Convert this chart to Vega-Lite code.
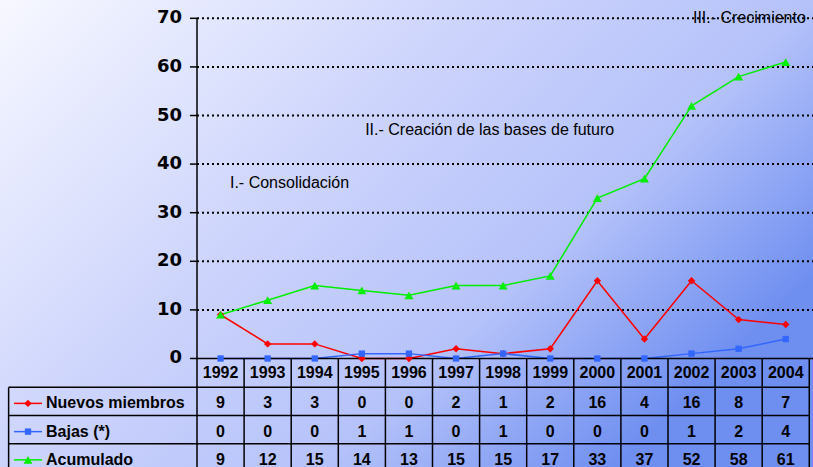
{
  "$schema": "https://vega.github.io/schema/vega-lite/v6.json",
  "width": 813,
  "height": 467,
  "padding": 0,
  "autosize": {"type": "none"},
  "background": "#ffffff",
  "view": {
    "stroke": null,
    "fill": {
      "gradient": "linear", "x1": 0, "y1": 0, "x2": 1, "y2": 0.6,
      "stops": [
        {"offset": 0, "color": "#f7f8ff"},
        {"offset": 0.44, "color": "#cdd4fc"},
        {"offset": 0.735, "color": "#b5c2fa"},
        {"offset": 1, "color": "#6e8ef0"}
      ]
    }
  },
  "config": {"font": "Liberation Sans", "axis": {"grid": false}},
  "datasets": {
    "series": [
      {"year": 1992, "series": "Nuevos miembros", "value": 9},
      {"year": 1993, "series": "Nuevos miembros", "value": 3},
      {"year": 1994, "series": "Nuevos miembros", "value": 3},
      {"year": 1995, "series": "Nuevos miembros", "value": 0},
      {"year": 1996, "series": "Nuevos miembros", "value": 0},
      {"year": 1997, "series": "Nuevos miembros", "value": 2},
      {"year": 1998, "series": "Nuevos miembros", "value": 1},
      {"year": 1999, "series": "Nuevos miembros", "value": 2},
      {"year": 2000, "series": "Nuevos miembros", "value": 16},
      {"year": 2001, "series": "Nuevos miembros", "value": 4},
      {"year": 2002, "series": "Nuevos miembros", "value": 16},
      {"year": 2003, "series": "Nuevos miembros", "value": 8},
      {"year": 2004, "series": "Nuevos miembros", "value": 7},
      {"year": 1992, "series": "Bajas (*)", "value": 0},
      {"year": 1993, "series": "Bajas (*)", "value": 0},
      {"year": 1994, "series": "Bajas (*)", "value": 0},
      {"year": 1995, "series": "Bajas (*)", "value": 1},
      {"year": 1996, "series": "Bajas (*)", "value": 1},
      {"year": 1997, "series": "Bajas (*)", "value": 0},
      {"year": 1998, "series": "Bajas (*)", "value": 1},
      {"year": 1999, "series": "Bajas (*)", "value": 0},
      {"year": 2000, "series": "Bajas (*)", "value": 0},
      {"year": 2001, "series": "Bajas (*)", "value": 0},
      {"year": 2002, "series": "Bajas (*)", "value": 1},
      {"year": 2003, "series": "Bajas (*)", "value": 2},
      {"year": 2004, "series": "Bajas (*)", "value": 4},
      {"year": 1992, "series": "Acumulado", "value": 9},
      {"year": 1993, "series": "Acumulado", "value": 12},
      {"year": 1994, "series": "Acumulado", "value": 15},
      {"year": 1995, "series": "Acumulado", "value": 14},
      {"year": 1996, "series": "Acumulado", "value": 13},
      {"year": 1997, "series": "Acumulado", "value": 15},
      {"year": 1998, "series": "Acumulado", "value": 15},
      {"year": 1999, "series": "Acumulado", "value": 17},
      {"year": 2000, "series": "Acumulado", "value": 33},
      {"year": 2001, "series": "Acumulado", "value": 37},
      {"year": 2002, "series": "Acumulado", "value": 52},
      {"year": 2003, "series": "Acumulado", "value": 58},
      {"year": 2004, "series": "Acumulado", "value": 61}
    ],
    "ticks": [{"v": 0}, {"v": 10}, {"v": 20}, {"v": 30}, {"v": 40}, {"v": 50}, {"v": 60}, {"v": 70}],
    "one": [{}]
  },
  "resolve": {"scale": {"y": "independent"}},
  "layer": [
    {
      "layer": [
        {
          "data": {"name": "ticks"},
          "transform": [{"filter": "datum.v > 0"}],
          "mark": {"type": "rule", "strokeDash": [2, 3], "strokeWidth": 2, "color": "#000000"},
          "encoding": {
            "y": {"field": "v", "type": "quantitative", "scale": {"domain": [-22.33, 73.77], "nice": false, "zero": false}, "axis": null},
            "x": {"datum": 1991.5, "type": "quantitative", "scale": {"domain": [1987.317, 2004.579], "nice": false, "zero": false}, "axis": null},
            "x2": {"datum": 2004.579}
          }
        },
        {
          "data": {"name": "ticks"},
          "mark": {"type": "rule", "strokeWidth": 1.5, "color": "#000000"},
          "encoding": {
            "y": {"field": "v", "type": "quantitative", "axis": null},
            "x": {"datum": 1991.35, "type": "quantitative", "axis": null},
            "x2": {"datum": 1991.5}
          }
        },
        {
          "data": {"name": "ticks"},
          "mark": {"type": "text", "align": "right", "baseline": "middle", "font": "DejaVu Sans", "fontWeight": "bold", "fontSize": 18, "color": "#000000"},
          "encoding": {
            "y": {"field": "v", "type": "quantitative", "axis": null},
            "x": {"datum": 1991.18, "type": "quantitative", "axis": null},
            "text": {"field": "v", "type": "quantitative"}
          }
        },
        {
          "data": {"name": "one"},
          "mark": {"type": "rule", "strokeWidth": 1.5, "color": "#000000"},
          "encoding": {
            "x": {"datum": 1991.5, "type": "quantitative", "axis": null},
            "y": {"datum": 70, "type": "quantitative", "axis": null},
            "y2": {"datum": 0}
          }
        },
        {
          "data": {"name": "series"},
          "mark": {"type": "line", "strokeWidth": 1.5},
          "encoding": {
            "x": {"field": "year", "type": "quantitative", "axis": null},
            "y": {"field": "value", "type": "quantitative", "axis": null},
            "color": {
              "field": "series", "type": "nominal", "legend": null,
              "scale": {"domain": ["Nuevos miembros", "Bajas (*)", "Acumulado"], "range": ["#ff0000", "#3366ff", "#00ee00"]}
            }
          }
        },
        {
          "data": {"name": "one"},
          "mark": {"type": "rule", "strokeWidth": 1.5, "color": "#000000"},
          "encoding": {
            "x": {"datum": 1991.5, "type": "quantitative", "axis": null},
            "x2": {"datum": 2004.579},
            "y": {"datum": 0, "type": "quantitative", "axis": null}
          }
        },
        {
          "data": {"name": "series"},
          "transform": [{"filter": "datum.series == 'Acumulado'"}],
          "mark": {"type": "rule", "strokeWidth": 1.5, "color": "#000000", "xOffset": -23.55},
          "encoding": {
            "x": {"field": "year", "type": "quantitative", "axis": null},
            "y": {"datum": 0, "type": "quantitative", "axis": null},
            "y2": {"datum": -25}
          }
        },
        {
          "data": {"name": "one"},
          "mark": {"type": "rule", "strokeWidth": 1.5, "color": "#000000"},
          "encoding": {
            "x": {"datum": 2004.5, "type": "quantitative", "axis": null},
            "y": {"datum": 0, "type": "quantitative", "axis": null},
            "y2": {"datum": -25}
          }
        },
        {
          "data": {"name": "one"},
          "mark": {"type": "rule", "strokeWidth": 1.5, "color": "#000000"},
          "encoding": {
            "x": {"datum": 1987.5, "type": "quantitative", "axis": null},
            "y": {"datum": -5.95, "type": "quantitative", "axis": null},
            "y2": {"datum": -25}
          }
        },
        {
          "data": {"name": "series"},
          "mark": {"type": "point", "filled": true, "opacity": 1},
          "encoding": {
            "x": {"field": "year", "type": "quantitative", "axis": null},
            "y": {"field": "value", "type": "quantitative", "axis": null},
            "color": {"field": "series", "type": "nominal", "legend": null},
            "shape": {
              "field": "series", "type": "nominal", "legend": null,
              "scale": {"domain": ["Nuevos miembros", "Bajas (*)", "Acumulado"], "range": ["diamond", "square", "triangle-up"]}
            },
            "size": {
              "field": "series", "type": "nominal", "legend": null,
              "scale": {"type": "ordinal", "domain": ["Nuevos miembros", "Bajas (*)", "Acumulado"], "range": [55, 40, 80]}
            }
          }
        },
        {
          "data": {"name": "one"},
          "mark": {"type": "text", "align": "left", "baseline": "middle", "fontSize": 16, "color": "#000000"},
          "encoding": {
            "x": {"datum": 1992.2, "type": "quantitative", "axis": null},
            "y": {"datum": 36.1, "type": "quantitative", "axis": null},
            "text": {"value": "I.- Consolidación"}
          }
        },
        {
          "data": {"name": "one"},
          "mark": {"type": "text", "align": "left", "baseline": "middle", "fontSize": 16, "color": "#000000"},
          "encoding": {
            "x": {"datum": 1995.07, "type": "quantitative", "axis": null},
            "y": {"datum": 47, "type": "quantitative", "axis": null},
            "text": {"value": "II.- Creación de las bases de futuro"}
          }
        },
        {
          "data": {"name": "one"},
          "mark": {"type": "text", "align": "left", "baseline": "middle", "fontSize": 16, "color": "#000000"},
          "encoding": {
            "x": {"datum": 2002.03, "type": "quantitative", "axis": null},
            "y": {"datum": 70, "type": "quantitative", "axis": null},
            "text": {"value": "III.- Crecimiento"}
          }
        }
      ]
    },
    {
      "layer": [
        {
          "data": {"name": "series"},
          "transform": [{"filter": "datum.year == 1992"}],
          "mark": {"type": "rule", "strokeWidth": 1.5, "color": "#000000"},
          "encoding": {
            "y": {
              "field": "series", "type": "nominal", "bandPosition": 0, "axis": null,
              "scale": {"type": "band", "domain": ["header", "Nuevos miembros", "Bajas (*)", "Acumulado"], "range": [359, 472], "paddingInner": 0, "paddingOuter": 0}
            },
            "x": {"datum": 1987.5, "type": "quantitative", "axis": null},
            "x2": {"datum": 2004.5}
          }
        },
        {
          "data": {"name": "series"},
          "transform": [{"filter": "datum.series == 'Acumulado'"}],
          "mark": {"type": "text", "align": "center", "baseline": "middle", "fontSize": 16, "fontWeight": "bold", "color": "#000000"},
          "encoding": {
            "x": {"field": "year", "type": "quantitative", "axis": null},
            "y": {"datum": "header", "type": "nominal", "axis": null},
            "text": {"field": "year", "type": "nominal"}
          }
        },
        {
          "data": {"name": "series"},
          "mark": {"type": "text", "align": "center", "baseline": "middle", "fontSize": 16, "fontWeight": "bold", "color": "#000000", "dy": 2},
          "encoding": {
            "x": {"field": "year", "type": "quantitative", "axis": null},
            "y": {"field": "series", "type": "nominal", "axis": null},
            "text": {"field": "value", "type": "quantitative"}
          }
        },
        {
          "data": {"name": "series"},
          "transform": [{"filter": "datum.year == 1992"}],
          "mark": {"type": "text", "align": "left", "baseline": "middle", "fontSize": 16, "fontWeight": "bold", "color": "#000000", "dy": 2},
          "encoding": {
            "x": {"datum": 1988.294, "type": "quantitative", "axis": null},
            "y": {"field": "series", "type": "nominal", "axis": null},
            "text": {"field": "series", "type": "nominal"}
          }
        },
        {
          "data": {"name": "series"},
          "transform": [{"filter": "datum.year == 1992"}],
          "mark": {"type": "rule", "strokeWidth": 1.5, "yOffset": 2},
          "encoding": {
            "x": {"datum": 1987.614, "type": "quantitative", "axis": null},
            "x2": {"datum": 1988.209},
            "y": {"field": "series", "type": "nominal", "axis": null},
            "color": {"field": "series", "type": "nominal", "legend": null}
          }
        },
        {
          "data": {"name": "series"},
          "transform": [{"filter": "datum.year == 1992"}],
          "mark": {"type": "point", "filled": true, "opacity": 1, "yOffset": 2},
          "encoding": {
            "x": {"datum": 1987.911, "type": "quantitative", "axis": null},
            "y": {"field": "series", "type": "nominal", "axis": null},
            "color": {"field": "series", "type": "nominal", "legend": null},
            "shape": {
              "field": "series", "type": "nominal", "legend": null,
              "scale": {"domain": ["Nuevos miembros", "Bajas (*)", "Acumulado"], "range": ["diamond", "square", "triangle-up"]}
            },
            "size": {
              "field": "series", "type": "nominal", "legend": null,
              "scale": {"type": "ordinal", "domain": ["Nuevos miembros", "Bajas (*)", "Acumulado"], "range": [55, 40, 80]}
            }
          }
        }
      ]
    }
  ]
}
